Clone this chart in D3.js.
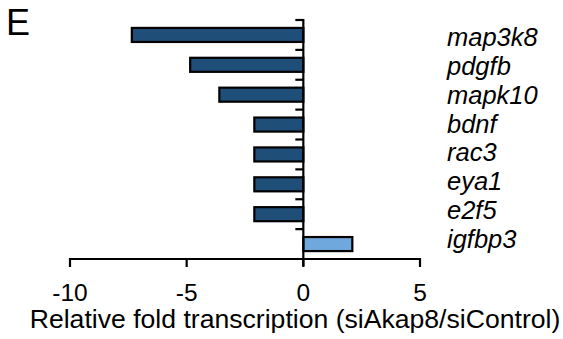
<!DOCTYPE html>
<html><head><meta charset="utf-8">
<script src="https://cdn.jsdelivr.net/npm/d3@7"></script>
<style>body{margin:0;background:#fff}svg{display:block}text{font-family:"Liberation Sans",Arial,sans-serif;fill:#000}</style>
</head><body>
<svg id="c" width="563" height="339"></svg>
<script>
const genes = ["map3k8","pdgfb","mapk10","bdnf","rac3","eya1","e2f5","igfbp3"];
const values = [-7.35,-4.85,-3.6,-2.1,-2.1,-2.1,-2.1,2.1];
const xTicks = [-10,-5,0,5];
const axisTitle = "Relative fold transcription (siAkap8/siControl)";
const panelLabel = "E";

const svg = d3.select("#c");
const x = d3.scaleLinear().domain([-10,5]).range([70,420]);
const y = d3.scaleBand().domain(genes).range([20,259]).paddingInner(0.53).paddingOuter(0.265);
const yb = d3.scaleBand().domain(genes).range([20,259]);
const yl = d3.scalePoint().domain(genes).range([46,248]);

svg.append("text").attr("x",6).attr("y",35).attr("font-size",36).text(panelLabel);

// bars
svg.selectAll("rect.bar").data(genes).enter().append("rect")
  .attr("x",(d,i)=>x(Math.min(0,values[i])))
  .attr("width",(d,i)=>Math.abs(x(values[i])-x(0)))
  .attr("y",d=>y(d)).attr("height",y.bandwidth())
  .attr("fill",(d,i)=>values[i]<0?"#1f4e79":"#6fa8dc")
  .attr("stroke","#000").attr("stroke-width",2.2);

// x axis
const xa = svg.append("g").attr("transform","translate(0,259)");
xa.append("line").attr("x1",x(-10)-1).attr("x2",x(5)+1).attr("stroke","#000").attr("stroke-width",2.2);
xa.selectAll("line.t").data(xTicks).enter().append("line")
  .attr("x1",d=>x(d)).attr("x2",d=>x(d)).attr("y1",-1).attr("y2",8).attr("stroke","#000").attr("stroke-width",2.2);
xa.selectAll("text").data(xTicks).enter().append("text")
  .attr("x",d=>x(d)).attr("y",42).attr("text-anchor","middle").attr("font-size",24.5).text(d=>d);

// y axis at zero
svg.append("line").attr("x1",x(0)).attr("x2",x(0)).attr("y1",19).attr("y2",266).attr("stroke","#000").attr("stroke-width",2.2);
svg.selectAll("line.yt").data(genes).enter().append("line")
  .attr("x1",x(0)-8).attr("x2",x(0)).attr("y1",d=>yb(d)).attr("y2",d=>yb(d)).attr("stroke","#000").attr("stroke-width",2.2);

// gene labels
svg.selectAll("text.g").data(genes).enter().append("text")
  .attr("x",447).attr("y",d=>yl(d)).attr("font-size",25.5).attr("font-style","italic").text(d=>d);

svg.append("text").attr("x",295).attr("y",328).attr("text-anchor","middle").attr("font-size",26.6).text(axisTitle);
</script>
</body></html>
